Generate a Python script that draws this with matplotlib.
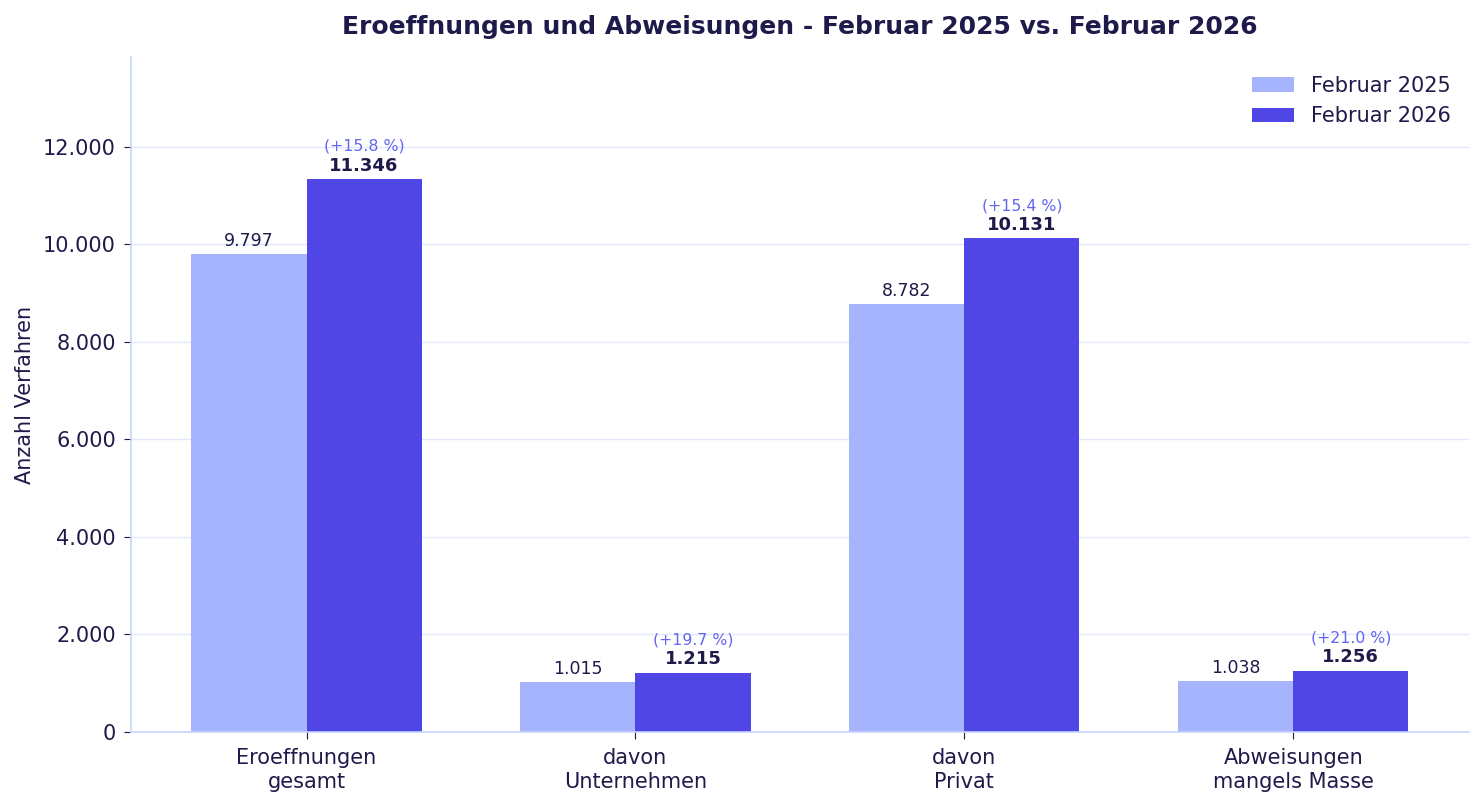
import numpy as np
import matplotlib.pyplot as plt

categories = ["Eroeffnungen\ngesamt", "davon\nUnternehmen", "davon\nPrivat", "Abweisungen\nmangels Masse"]
feb_2025 = [9797, 1015, 8782, 1038]
feb_2026 = [11346, 1215, 10131, 1256]
series_labels = ["Februar 2025", "Februar 2026"]

DARK = "#1e1b4b"
LIGHT_BAR = "#a5b4fc"
DARK_BAR = "#4f46e5"
PCT = "#6366f1"


def fmt(v):
    return f"{v:,}".replace(",", ".")


def main():
    fig, ax = plt.subplots(figsize=(14.84, 8.05), dpi=100)
    x = np.arange(len(categories))
    w = 0.35
    b1 = ax.bar(x - w / 2, feb_2025, w, color=LIGHT_BAR, label=series_labels[0])
    b2 = ax.bar(x + w / 2, feb_2026, w, color=DARK_BAR, label=series_labels[1])

    for rect, v in zip(b1, feb_2025):
        ax.annotate(fmt(v), (rect.get_x() + rect.get_width() / 2, v),
                    xytext=(0, 3), textcoords="offset points",
                    ha="center", va="bottom", fontsize=12.5, color=DARK)
    for rect, v, old in zip(b2, feb_2026, feb_2025):
        cx = rect.get_x() + rect.get_width() / 2
        ax.annotate(fmt(v), (cx, v), xytext=(0, 3), textcoords="offset points",
                    ha="center", va="bottom", fontsize=13, color=DARK, fontweight="bold")
        pct = (v - old) / old * 100
        ax.annotate(f"(+{pct:.1f} %)", (cx, v), xytext=(0, 18), textcoords="offset points",
                    ha="center", va="bottom", fontsize=11.3, color=PCT)

    ax.set_ylim(0, max(feb_2026) * 1.22)
    ax.set_xticks(x)
    ax.set_xticklabels(categories, fontsize=15, color=DARK)
    ax.tick_params(axis="y", labelsize=15, labelcolor=DARK, color=DARK, length=5, pad=5.5)
    ax.tick_params(axis="x", color=DARK, length=5, pad=7)
    ax.yaxis.set_major_formatter(plt.FuncFormatter(lambda v, p: fmt(int(v))))
    ax.set_ylabel("Anzahl Verfahren", fontsize=15, color=DARK, labelpad=6)
    ax.set_title("Eroeffnungen und Abweisungen - Februar 2025 vs. Februar 2026",
                 fontsize=18, fontweight="bold", color=DARK, pad=17)

    ax.grid(axis="y", color="#e0e7ff", linewidth=1)
    ax.set_axisbelow(True)
    for s in ["top", "right"]:
        ax.spines[s].set_visible(False)
    for s in ["left", "bottom"]:
        ax.spines[s].set_color("#c7d2fe")
        ax.spines[s].set_linewidth(1.2)

    leg = ax.legend(fontsize=15, frameon=False, loc="upper right")
    for t in leg.get_texts():
        t.set_color(DARK)

    fig.subplots_adjust(left=0.088, right=0.99, top=0.929, bottom=0.091)
    fig.savefig("out.png", dpi=100)


if __name__ == "__main__":
    main()
